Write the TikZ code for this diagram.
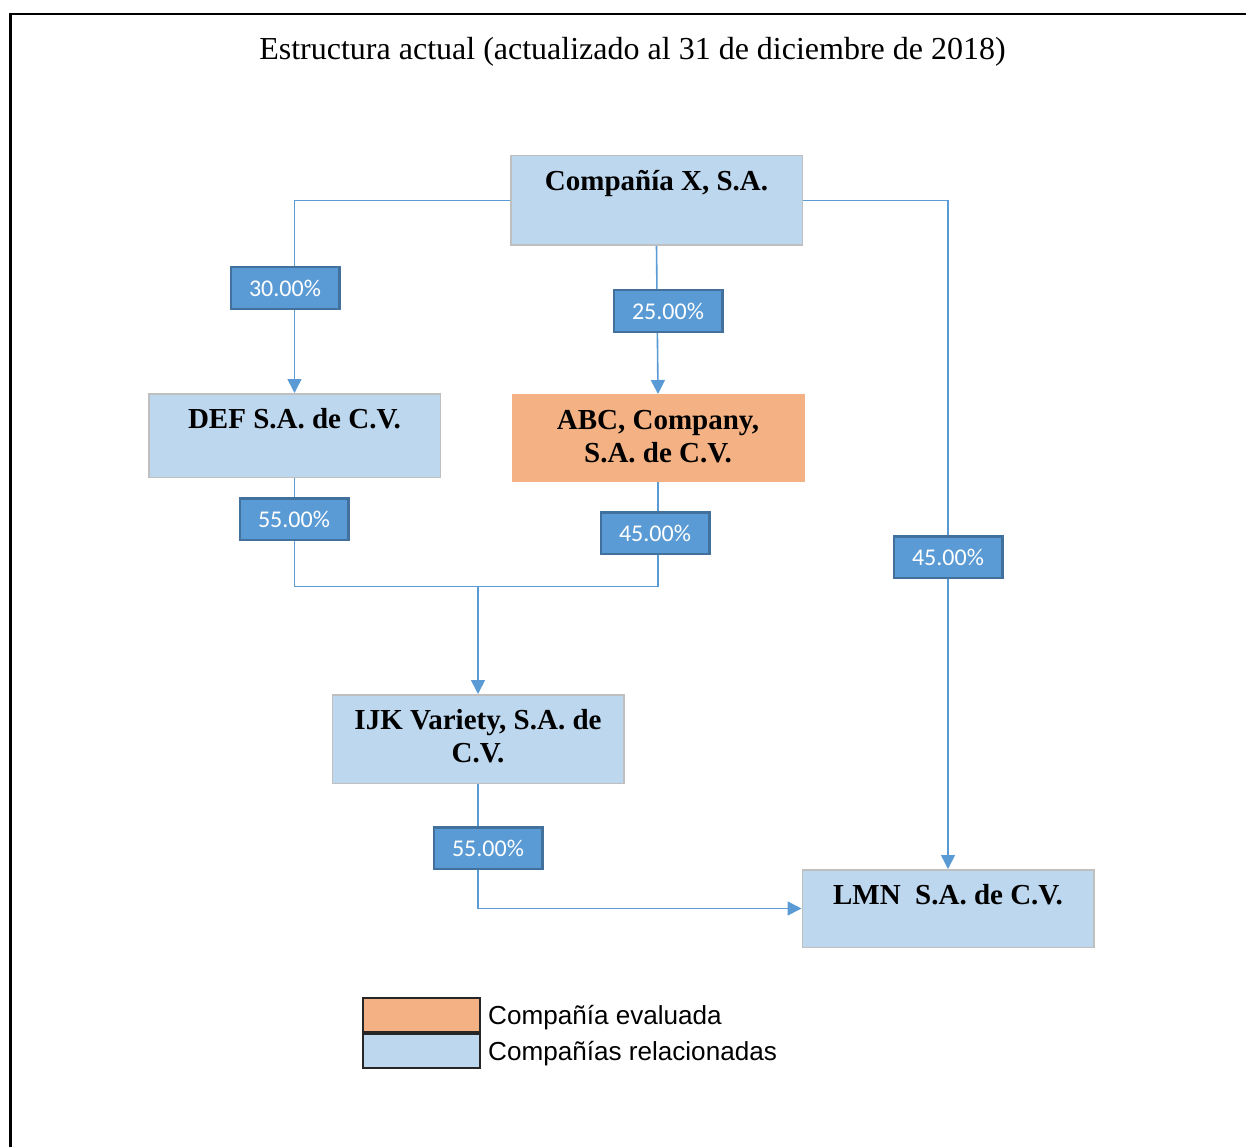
\documentclass[tikz,border=0pt]{standalone}
\usepackage{fontspec}
\setmainfont{Liberation Serif}
\setsansfont{Liberation Sans}
\newfontfamily\pctfont{Carlito}
\usetikzlibrary{arrows.meta,positioning}
\definecolor{boxblue}{HTML}{BDD7EE}
\definecolor{boxgray}{HTML}{BFBFBF}
\definecolor{evalorange}{HTML}{F4B183}
\definecolor{pctblue}{HTML}{5B9BD5}
\definecolor{pctedge}{HTML}{41719C}
\definecolor{linkblue}{HTML}{5B9BD5}

\begin{document}
\begin{tikzpicture}[x=1pt,y=-1pt,
  company/.style={draw=boxgray,fill=boxblue,line width=1.5pt,minimum width=291.5pt,inner sep=0pt},
  evaluated/.style={company,draw=evalorange,fill=evalorange},
  boxtext/.style={anchor=north,align=center,inner sep=0pt,yshift=-11.9pt,font=\bfseries\fontsize{29}{33}\selectfont},
  pct/.style={draw=pctedge,fill=pctblue,line width=2.5pt,minimum width=108.5pt,minimum height=41.5pt,inner sep=0pt,text=white,font=\pctfont\fontsize{24}{28}\selectfont},
  link/.style={draw=linkblue,line width=1.6pt},
  arr/.style={-{Triangle[width=14pt,length=14pt]}},
  legendbox/.style={draw=black!85,line width=2pt,minimum width=117pt,minimum height=34pt,inner sep=0pt},
  legendtext/.style={inner sep=0pt,yshift=-3pt,font=\sffamily\fontsize{26.1}{30}\selectfont}
]
\useasboundingbox (0,0) rectangle (1246,1147);
\draw[line width=2.4pt] (10.5,1147) -- (10.5,14.3) -- (1246,14.3);
\node[anchor=base,inner sep=0pt,font=\fontsize{32}{37}\selectfont] (title) at (632.5,60) {Estructura actual (actualizado al 31 de diciembre de 2018)};

% companies
\node[company,minimum height=89.5pt,label={[boxtext]north:{\strut Compañía X, S.A.}}] (compx) at (656.5,200.5) {};
\node[company,minimum height=83.5pt,label={[boxtext]north:{\strut DEF S.A. de C.V.}}] (def) at (294.5,435.5) {};
\node[evaluated,minimum height=86.5pt,label={[boxtext]north:{\strut ABC, Company,\\S.A. de C.V.}}] (abc) at (658,438) {};
\node[company,minimum height=88.5pt,label={[boxtext]north:{\strut IJK Variety, S.A. de\\C.V.}}] (ijk) at (478,739) {};
\node[company,minimum height=77.5pt,label={[boxtext]north:{\strut LMN~~S.A. de C.V.}}] (lmn) at (948,908.5) {};

% ownership links
\coordinate (merge) at (478,586.5);
\draw[link,arr] (compx.west) -| (def.north);
\draw[link,arr] (compx.south) -- (abc.north);
\draw[link,arr] (compx.east) -| (lmn.north);
\draw[link] (def.south) |- (merge);
\draw[link] (abc.south) |- (merge);
\draw[link,arr] (merge) -- (ijk.north);
\draw[link,arr] (ijk.south) |- (lmn.west);

% percentages
\node[pct] (p-def) at (285,288) {30.00\%};
\node[pct] (p-abc) at (668,311) {25.00\%};
\node[pct] (p-lmn) at (948,557) {45.00\%};
\node[pct] (p-defijk) at (294,519) {55.00\%};
\node[pct] (p-abcijk) at (655,533) {45.00\%};
\node[pct] (p-ijklmn) at (488,848) {55.00\%};

% legend
\node[legendbox,fill=evalorange] (leg-eval) at (421.5,1014.5) {};
\node[legendbox,fill=boxblue,below=0pt of leg-eval] (leg-rel) {};
\node[legendtext,right=7pt of leg-eval] (leg-eval-text) {Compañía evaluada};
\node[legendtext,right=7pt of leg-rel] (leg-rel-text) {Compañías relacionadas};
\end{tikzpicture}
\end{document}
